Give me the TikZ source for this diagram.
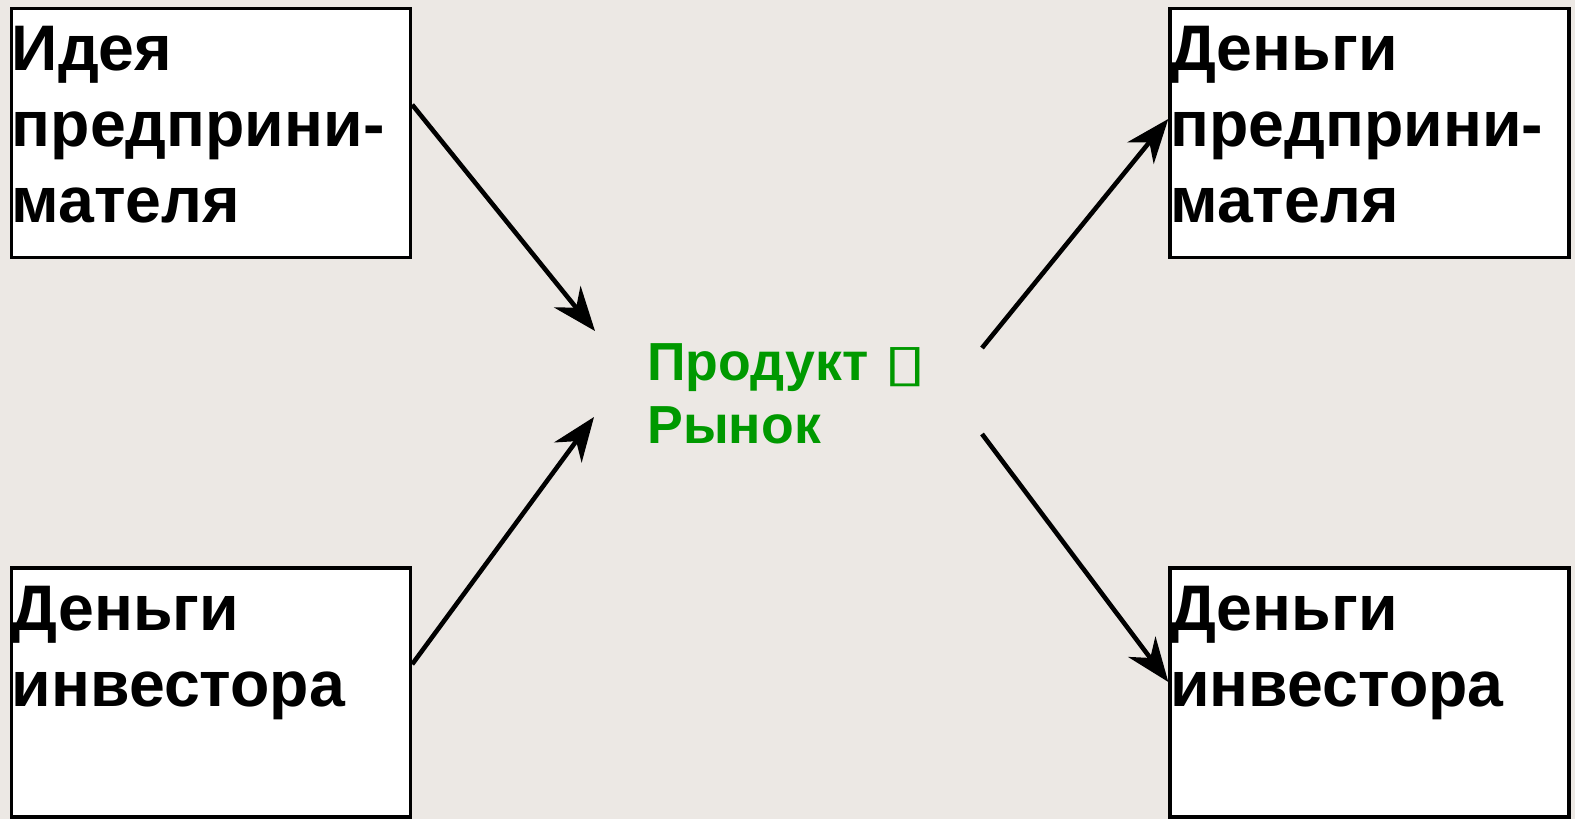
\documentclass[tikz,border=0pt]{standalone}
\usepackage{fontspec}
\usepackage{graphicx}
\setmainfont{Liberation Sans}
\newfontfamily\simboli{DejaVu Sans}
\usetikzlibrary{arrows.meta}

\definecolor{sfondo}{RGB}{236,232,228}
\definecolor{verde}{RGB}{0,153,0}

\tikzset{
    scatola/.style={draw=black, line width=1.7pt, fill=white,
        minimum width=199.5pt, minimum height=124.5pt, inner sep=0pt},
    testo/.style={anchor=north west, align=left, inner xsep=0.8pt, inner ysep=9.5pt,
        font=\fontsize{32.2}{38}\selectfont\bfseries},
    prodotto/.style={anchor=north west, align=left, inner sep=0pt, text=verde,
        font=\fontsize{26.8}{31.5}\selectfont\bfseries},
    freccia/.style={line width=2.3pt, -{Stealth[length=22pt, width=17pt, inset=7pt]}}
}

\begin{document}
\begin{tikzpicture}[x=0.5pt, y=-0.5pt]
    % Sfondo
    \fill[sfondo] (0,0) rectangle (1575,819);

    % --- Ingressi (sinistra) ---
    \node[scatola] (ideaBox) at (211,133) {};
    \node[testo] (ideaTesto) at (ideaBox.north west) {Идея\\предприни-\\мателя};

    \node[scatola] (invBox) at (211,692.5) {};
    \node[testo] (invTesto) at (invBox.north west) {Деньги\\инвестора};

    % --- Uscite (destra) ---
    \node[scatola] (impBox) at (1369.5,133) {};
    \node[testo] (impTesto) at (impBox.north west) {Деньги\\предприни-\\мателя};

    \node[scatola] (invOutBox) at (1369.5,692.5) {};
    \node[testo] (invOutTesto) at (invOutBox.north west) {Деньги\\инвестора};

    % --- Centro ---
    \node[prodotto] (prod) at (647,343) {Продукт \smash{\scalebox{1.65}[1.07]{\simboli\fontsize{24}{24}\selectfont ▯}}\\Рынок};

    % Punti liberi delle frecce
    \coordinate (prodNO) at (595,331);
    \coordinate (prodSO) at (594,417);
    \coordinate (prodNE) at (982,348);
    \coordinate (prodSE) at (982,434);

    % Frecce
    \draw[freccia] (ideaBox.8.5) -- (prodNO);
    \draw[freccia] (invBox.8.5) -- (prodSO);
    \draw[freccia] (prodNE) -- (impBox.176.6);
    \draw[freccia] (prodSE) -- (invOutBox.177);
\end{tikzpicture}
\end{document}
